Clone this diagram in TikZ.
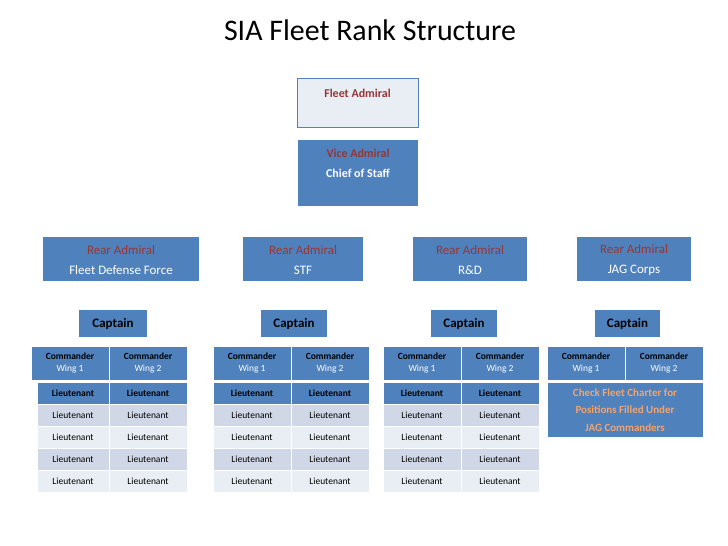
\documentclass[tikz,border=0pt]{standalone}
\usepackage{fontspec}
\setmainfont{Carlito}
\definecolor{blu}{HTML}{4F81BD}
\definecolor{redd}{HTML}{953735}
\definecolor{la}{HTML}{D0D8E8}
\definecolor{lb}{HTML}{E9EDF4}
\definecolor{orng}{HTML}{F4A46A}
\begin{document}
\begin{tikzpicture}[x=1bp,y=-1bp,
 bx/.style={fill=blu,draw=white,line width=0.8bp},
 tt/.style={inner sep=0,align=center,font=\fontsize{13}{16}\selectfont},
 cmd/.style={inner sep=0,align=center,font=\fontsize{9.5}{12.5}\selectfont},
 ltn/.style={inner sep=0,font=\fontsize{9.5}{11}\selectfont}]
\useasboundingbox (0,0) rectangle (728,546);
\node[inner sep=0,font=\fontsize{30}{34}\selectfont] (title) at (370,30) {SIA Fleet Rank Structure};
\draw[fill=lb,draw=blu] (297,78) rectangle (418,127);
\node[tt,text=redd,font=\fontsize{12}{14}\bfseries\selectfont] (fa) at (357.5,93) {Fleet Admiral};
\fill[blu] (298,140) rectangle (418,206);
\node[tt,font=\fontsize{12}{20}\bfseries\selectfont] (va) at (358,163) {\textcolor{redd}{Vice Admiral}\\\textcolor{white}{Chief of Staff}};
\foreach \a/\b/\s [count=\i] in {43/199/Fleet Defense Force,243/363/STF,413/527/R\&D,577/691/JAG Corps}{
 \fill[blu] (\a,237) rectangle (\b,281);
 \node[tt,font=\fontsize{13}{20}\selectfont] (ra\i) at ({(\a+\b)/2},260) {\textcolor{redd}{Rear Admiral}\\\textcolor{white}{\s}};
}
\foreach \a/\b [count=\i] in {79/147,261/327,431/497,595/660}{
 \fill[blu] (\a,310) rectangle (\b,337);
 \node[tt,font=\fontsize{13}{16}\bfseries\selectfont] (cap\i) at ({(\a+\b)/2},323.5) {Captain};
}
\foreach \a [count=\i] in {31,213,383,547}{
 \fill[bx] (\a,346) rectangle ({\a+78},380);
 \fill[bx] ({\a+78},346) rectangle ({\a+156},380);
 \node[cmd] (c\i a) at ({\a+39},363) {\textbf{Commander}\\\textcolor{white}{Wing 1}};
 \node[cmd] (c\i b) at ({\a+117},363) {\textbf{Commander}\\\textcolor{white}{Wing 2}};
}
\foreach \l/\m/\e [count=\i] in {37/109/187,213/291/369,383/461/539}{
 \fill[bx] (\l,382) rectangle (\m,404);
 \fill[bx] (\m,382) rectangle (\e,404);
 \node[ltn,font=\fontsize{9.5}{11}\bfseries\selectfont] (l\i a0) at ({(\l+\m)/2},393) {Lieutenant};
 \node[ltn,font=\fontsize{9.5}{11}\bfseries\selectfont] (l\i b0) at ({(\m+\e)/2},393) {Lieutenant};
 \foreach \r/\c in {1/la,2/lb,3/la,4/lb}{
  \fill[\c,draw=white,line width=0.8bp] (\l,{382+22*\r}) rectangle (\m,{404+22*\r});
  \fill[\c,draw=white,line width=0.8bp] (\m,{382+22*\r}) rectangle (\e,{404+22*\r});
  \node[ltn] (l\i a\r) at ({(\l+\m)/2},{393+22*\r}) {Lieutenant};
  \node[ltn] (l\i b\r) at ({(\m+\e)/2},{393+22*\r}) {Lieutenant};
 }
}
\fill[bx] (547,382) rectangle (703,437);
\node[tt,text=orng,font=\fontsize{11}{17.5}\bfseries\selectfont] (chk) at (625,410) {Check Fleet Charter for\\Positions Filled Under\\JAG Commanders};
\end{tikzpicture}
\end{document}
